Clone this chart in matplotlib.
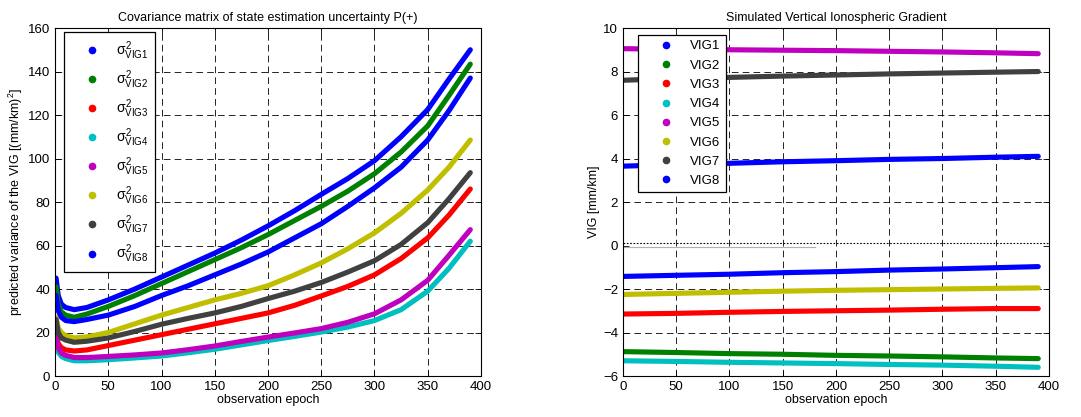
import matplotlib
matplotlib.use('Agg')
import matplotlib.pyplot as plt
from matplotlib.lines import Line2D

plt.rcParams['font.family'] = ['Liberation Sans', 'DejaVu Sans']
plt.rcParams['mathtext.fontset'] = 'custom'
plt.rcParams['mathtext.rm'] = 'Liberation Sans'
plt.rcParams['mathtext.it'] = 'Liberation Sans'
plt.rcParams['mathtext.bf'] = 'Liberation Sans'

# covariance (left) - values read at these epochs
epochs_l = [1, 3, 6, 10, 18, 30, 50, 75, 100, 125, 150, 175, 200, 225, 250, 275, 300, 325, 350, 370, 390]
var_vig1 = [45, 37, 33, 31.5, 30.5, 31.5, 35, 40, 45.5, 51, 56.5, 62.5, 69, 76, 83.5, 90.8, 99, 110, 122.5, 136.5, 150]
var_vig2 = [41, 33, 29.5, 28, 27, 28.5, 32, 37, 42.5, 48, 53.5, 59, 65, 71.5, 78, 85, 93, 103, 115, 129, 143.4]
var_vig3 = [21, 15, 13, 12, 11.5, 12, 14, 16.5, 19, 21.5, 24, 26.5, 29, 32.5, 36.8, 41.2, 46.5, 54, 63.5, 74, 86]
var_vig4 = [16, 11, 9, 8, 7, 7, 7.5, 8.3, 9.2, 10.7, 12.3, 14.3, 16.3, 18.2, 20.2, 22.5, 25.5, 30.5, 39, 49.5, 62]
var_vig5 = [19, 13, 10.5, 9.5, 8.5, 8.5, 9, 9.7, 10.6, 12.1, 13.8, 15.9, 17.9, 19.8, 21.8, 24.7, 28.6, 35, 44, 55.5, 67.3]
var_vig6 = [27, 22, 20, 18.5, 17.5, 18, 20, 24, 28, 31.5, 35, 38, 41.5, 46.5, 52, 58.5, 65.8, 74.8, 85.5, 96, 108.5]
var_vig7 = [26, 20, 17.5, 16.5, 15.5, 16, 17.5, 20.5, 23.8, 26.5, 29, 32, 35.6, 39, 43, 47.8, 53, 60.5, 70.5, 81.5, 93.5]
var_vig8 = [37, 30, 27, 25.5, 25, 26, 28, 32, 37, 41.5, 46.5, 51.5, 57, 63.5, 70, 78, 86.5, 96, 108.5, 122, 137]

# simulated VIG (right)
epochs_r = [1, 50, 100, 150, 200, 250, 300, 350, 390]
vig1 = [-1.42, -1.37, -1.32, -1.25, -1.2, -1.13, -1.08, -1.02, -0.97]
vig2 = [-4.88, -4.92, -4.97, -5.0, -5.05, -5.08, -5.12, -5.17, -5.2]
vig3 = [-3.15, -3.12, -3.07, -3.03, -3.0, -2.97, -2.93, -2.9, -2.9]
vig4 = [-5.3, -5.33, -5.37, -5.4, -5.43, -5.47, -5.5, -5.55, -5.6]
vig5 = [9.05, 9.02, 9.0, 8.98, 8.96, 8.93, 8.9, 8.86, 8.82]
vig6 = [-2.25, -2.2, -2.15, -2.1, -2.06, -2.03, -2.0, -1.97, -1.95]
vig7 = [7.6, 7.68, 7.73, 7.79, 7.84, 7.89, 7.93, 7.97, 8.0]
vig8 = [3.65, 3.72, 3.78, 3.85, 3.9, 3.96, 4.0, 4.06, 4.1]

names = ['VIG1', 'VIG2', 'VIG3', 'VIG4', 'VIG5', 'VIG6', 'VIG7', 'VIG8']
colors = ['#0000ff', '#008000', '#ff0000', '#00bfbf', '#bf00bf', '#bfbf00', '#404040', '#0000ff']

fig = plt.figure(figsize=(10.81, 4.17), dpi=100)
ax1 = fig.add_axes([0.0509, 0.0983, 0.394, 0.8345])
ax2 = fig.add_axes([0.5763, 0.0983, 0.394, 0.8345])


def style(ax):
    ax.grid(True, color='black', linestyle=(0, (8, 5)), linewidth=0.6)
    ax.tick_params(direction='in', top=True, right=True, labelsize=9.5, length=4, width=0.6)
    for s in ax.spines.values():
        s.set_linewidth(0.8)
    ax.set_xlim(0, 400)
    ax.set_xticks(range(0, 401, 50))
    ax.set_xlabel('observation epoch', fontsize=9, labelpad=1)


left_series = [var_vig1, var_vig2, var_vig3, var_vig4, var_vig5, var_vig6, var_vig7, var_vig8]
for vals, c in zip(left_series, colors):
    ax1.plot(epochs_l, vals, '-', color=c, lw=3.7, solid_capstyle='round', solid_joinstyle='round')
style(ax1)
ax1.set_ylim(0, 160)
ax1.set_yticks(range(0, 161, 20))
ax1.set_ylabel('predicted variance of the VIG [(mm/km)$^2$]', fontsize=9, labelpad=2)
ax1.set_title('Covariance matrix of state estimation uncertainty P(+)', fontsize=9, pad=5)
h1 = [Line2D([], [], ls='none', marker='.', ms=9, color=c) for c in colors]
lab1 = [r'$\sigma^2_{\mathrm{%s}}$' % n for n in names]
leg1 = ax1.legend(h1, lab1, loc='upper left', fontsize=10, fancybox=False, framealpha=1,
                  edgecolor='black', bbox_to_anchor=(0.021, 0.9885), borderaxespad=0,
                  labelspacing=0.47, handletextpad=0.25, handlelength=3.0, borderpad=0.5)
leg1.get_frame().set_linewidth(0.9)

right_series = [vig1, vig2, vig3, vig4, vig5, vig6, vig7, vig8]
for vals, c in zip(right_series, colors):
    ax2.plot(epochs_r, vals, '-', color=c, lw=3.7, solid_capstyle='round', solid_joinstyle='round')
style(ax2)
ax2.set_ylim(-6, 10)
ax2.set_yticks(range(-6, 11, 2))
ax2.yaxis.get_gridlines()[3].set_visible(False)
ax2.axhline(0.12, color='black', linestyle=(0, (1.5, 1.5)), linewidth=0.8)
ax2.plot([0, 180], [-0.05, -0.05], color='#b0b0b0', lw=0.8)
ax2.set_ylabel('VIG [mm/km]', fontsize=9, labelpad=2)
ax2.set_title('Simulated Vertical Ionospheric Gradient', fontsize=9, pad=5)
h2 = [Line2D([], [], ls='none', marker='.', ms=9, color=c) for c in colors]
leg2 = ax2.legend(h2, names, loc='upper left', fontsize=9.5, fancybox=False, framealpha=1,
                  edgecolor='black', bbox_to_anchor=(0.035, 0.98), borderaxespad=0,
                  labelspacing=0.53, handletextpad=0.1, handlelength=3.44, borderpad=0.4)
leg2.get_frame().set_linewidth(0.9)

fig.savefig('out.png', dpi=100)
